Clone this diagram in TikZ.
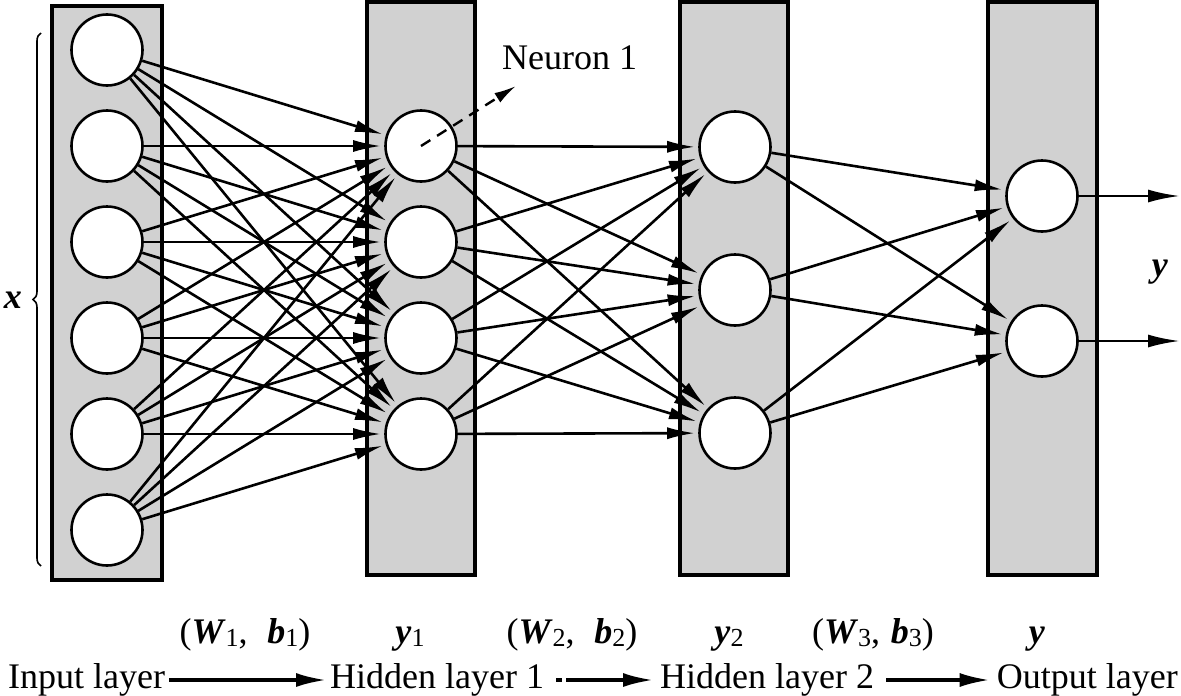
\documentclass[tikz,border=0pt]{standalone}
\usepackage{fontspec}
\setmainfont{Liberation Serif}
\usetikzlibrary{arrows.meta,decorations.pathreplacing}
\definecolor{boxgray}{RGB}{209,209,209}
\newcommand\bv[1]{\textbf{\textit{#1}}}
\newcommand\sbs[1]{\raisebox{-0.2ex}{\fontsize{26}{26}\selectfont #1}}
\begin{document}
\begin{tikzpicture}[x=1pt,y=-1pt,
  layerbox/.style={draw=black, fill=boxgray, line width=3.2pt},
  neuron/.style={circle, draw=black, fill=white, line width=2.6pt, minimum size=71pt, inner sep=0pt},
  conn/.style={line width=2.6pt, -{Latex[length=28pt,width=12pt]}, shorten >=3pt},
  outarrow/.style={line width=2.8pt, -{Latex[length=32pt,width=13pt]}},
  dasharrow/.style={line width=2.4pt, dash pattern=on 11pt off 8pt, -{Latex[length=22pt,width=11pt]}},
  lbl/.style={font=\fontsize{36}{42}\selectfont, inner sep=0pt},
  flow/.style={line width=3.2pt, -{Latex[length=30pt,width=14pt]}},
  bracestyle/.style={line width=1.6pt, decorate, decoration={brace, amplitude=8pt}},
]
\useasboundingbox (0,0) rectangle (1181,696);
% layer boxes
\path[layerbox] (52,6) rectangle (162,580);
\path[layerbox] (367,2) rectangle (475,575);
\path[layerbox] (680,2) rectangle (788,575);
\path[layerbox] (988,2) rectangle (1097,575);
% neurons
\foreach \i/\y in {1/50,2/146,3/242,4/338,5/434,6/530}
  \node[neuron] (in\i) at (107,\y) {};
\foreach \i/\y in {1/146,2/242,3/338,4/434}
  \node[neuron] (ha\i) at (421,\y) {};
\foreach \i/\y in {1/147,2/290,3/433}
  \node[neuron] (hb\i) at (735,\y) {};
\foreach \i/\y in {1/196,2/341}
  \node[neuron] (out\i) at (1042,\y) {};
% connections
\foreach \i in {1,...,6}
  \foreach \j in {1,...,4}
    \draw[conn] (in\i) -- (ha\j);
\foreach \i in {1,...,4}
  \foreach \j in {1,...,3}
    \draw[conn] (ha\i) -- (hb\j);
\foreach \i in {1,...,3}
  \foreach \j in {1,2}
    \draw[conn] (hb\i) -- (out\j);
% outputs
\coordinate (oe1) at (1180,196);
\coordinate (oe2) at (1180,341);
\draw[outarrow] (out1) -- (oe1);
\draw[outarrow] (out2) -- (oe2);
\node[lbl] (ylbl) at (1160,272) {\bv{y}};
% input brace
\coordinate (bb) at (41,566);
\coordinate (bt) at (41,33);
\draw[bracestyle] (bb) -- (bt);
\node[lbl] (xlbl) at (13,300) {\bv{x}};
% neuron 1
\node[lbl, anchor=base west] (n1lbl) at (502,69) {Neuron 1};
\coordinate (n1tip) at (516,86);
\draw[dasharrow] (ha1.center) -- (n1tip);
% top label row
\node[lbl, anchor=base] (wb1) at (245,643) {(\bv{W}\sbs{1},\hspace{0.55em}\bv{b}\sbs{1})};
\node[lbl, anchor=base] (y1lbl) at (410,643) {\bv{y}\sbs{1}};
\node[lbl, anchor=base] (wb2) at (572,643) {(\bv{W}\sbs{2},\hspace{0.55em}\bv{b}\sbs{2})};
\node[lbl, anchor=base] (y2lbl) at (729,643) {\bv{y}\sbs{2}};
\node[lbl, anchor=base] (wb3) at (873,643) {(\bv{W}\sbs{3},\hspace{0.3em}\bv{b}\sbs{3})};
\node[lbl, anchor=base] (y3lbl) at (1037,643) {\bv{y}};
% bottom flow row
\node[lbl, anchor=base west] (inl) at (8,688) {Input layer};
\node[lbl, anchor=base west] (hl1) at (330,688) {Hidden layer 1};
\node[lbl, anchor=base west] (hl2) at (660,688) {Hidden layer 2};
\node[lbl, anchor=base east] (outl) at (1178,688) {Output layer};
\coordinate (ar) at (0,680);
\draw[flow, shorten <=4pt, shorten >=4pt] (inl.east |- ar) -- (hl1.west |- ar);
\draw[flow, shorten <=12pt, shorten >=7pt, dash pattern=on 6pt off 4pt on 300pt] (hl1.east |- ar) -- (hl2.west |- ar);
\draw[flow, shorten <=12pt, shorten >=7pt] (hl2.east |- ar) -- (outl.west |- ar);
\end{tikzpicture}
\end{document}
